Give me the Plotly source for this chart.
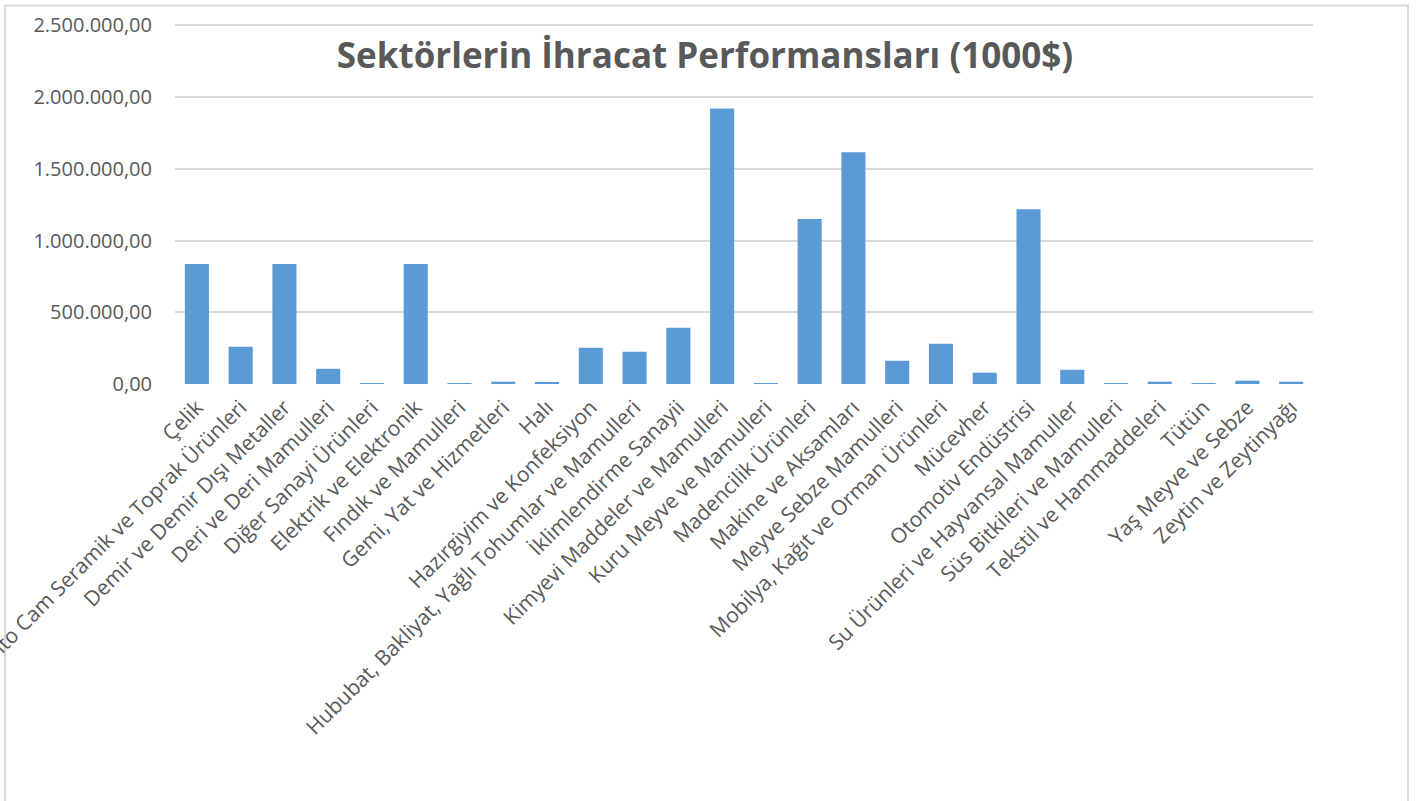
import plotly.graph_objects as go

categories = [
    "Çelik",
    "Çimento Cam Seramik ve Toprak Ürünleri",
    "Demir ve Demir Dışı Metaller",
    "Deri ve Deri Mamulleri",
    "Diğer Sanayi Ürünleri",
    "Elektrik ve Elektronik",
    "Fındık ve Mamulleri",
    "Gemi, Yat ve Hizmetleri",
    "Halı",
    "Hazırgiyim ve Konfeksiyon",
    "Hububat, Bakliyat, Yağlı Tohumlar ve Mamulleri",
    "İklimlendirme Sanayii",
    "Kimyevi Maddeler ve Mamulleri",
    "Kuru Meyve ve Mamulleri",
    "Madencilik Ürünleri",
    "Makine ve Aksamları",
    "Meyve Sebze Mamulleri",
    "Mobilya, Kağıt ve Orman Ürünleri",
    "Mücevher",
    "Otomotiv Endüstrisi",
    "Su Ürünleri ve Hayvansal Mamuller",
    "Süs Bitkileri ve Mamulleri",
    "Tekstil ve Hammaddeleri",
    "Tütün",
    "Yaş Meyve ve Sebze",
    "Zeytin ve Zeytinyağı",
]

values = [
    836000, 259000, 836000, 106000, 2000, 836000, 2000, 16000, 9000,
    252000, 225000, 392000, 1921000, 2000, 1150000, 1615000, 162000,
    280000, 79000, 1219000, 99000, 2000, 16000, 1500, 23000, 16000,
]

y_ticks = [0, 500000, 1000000, 1500000, 2000000, 2500000]

W, H = 1416, 801
L, R, B = 175, 1313, 384
Y_TOP_VAL = 2510000
px_per_unit = (B - 25) / 2500000
T = B - Y_TOP_VAL * px_per_unit

fig = go.Figure()
fig.add_trace(go.Bar(
    x=categories, y=values,
    marker=dict(color="#5b9bd5", line=dict(width=0)),
    width=0.55,
))

fig.update_layout(
    width=W, height=H,
    margin=dict(l=L, r=W - R, t=T, b=H - B, autoexpand=False),
    paper_bgcolor="white", plot_bgcolor="white",
    separators=",.",
    showlegend=False,
    font=dict(family="Open Sans", color="#595959"),
    title=dict(
        text="<b>Sektörlerin İhracat Performansları (1000$)</b>",
        x=705 / W, xanchor="center",
        y=1 - 56 / H, yanchor="middle", yref="container",
        font=dict(family="Open Sans", size=35, color="#595959"),
    ),
    xaxis=dict(
        tickangle=-45,
        tickfont=dict(size=21, color="#595959"),
        showgrid=False, showline=False, zeroline=False,
        ticklabelstandoff=6,
        automargin=False,
    ),
    yaxis=dict(
        range=[0, Y_TOP_VAL],
        tickvals=y_ticks,
        tickformat=",.2f",
        tickfont=dict(size=20, color="#595959"),
        showgrid=True, gridcolor="#d9d9d9", gridwidth=2,
        zeroline=False, showline=False,
        ticklabelstandoff=22,
        automargin=False,
    ),
    shapes=[dict(
        type="rect", xref="paper", yref="paper",
        x0=(5 - L) / (R - L), x1=(1408 - L) / (R - L),
        y0=(B - 830) / (B - T), y1=(B - 5) / (B - T),
        line=dict(color="#d9d9d9", width=2), fillcolor="rgba(0,0,0,0)",
        layer="below",
    )],
)

fig.write_html(
    "out.html",
    config={"displayModeBar": False},
    post_script="document.body.style.margin='0';document.body.style.overflow='hidden';",
)
